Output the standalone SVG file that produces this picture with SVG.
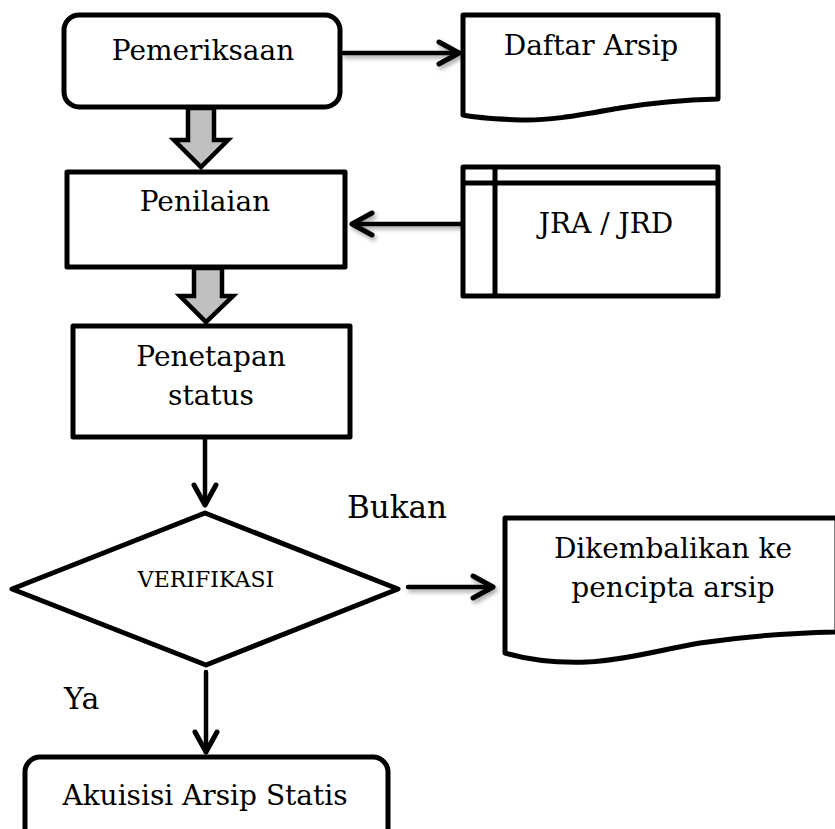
<svg xmlns="http://www.w3.org/2000/svg" width="835" height="829" viewBox="0 0 835 829">
  <defs>
    <style>
      .shape { fill: #ffffff; stroke: #000000; stroke-width: 5; stroke-linejoin: round; }
      .block { fill: #c0c0c0; stroke: #000000; stroke-width: 4.5; stroke-linejoin: miter; }
      .conn { fill: none; stroke: #000000; stroke-width: 4.5; stroke-linecap: round; }
      .lbl { font-family: "DejaVu Serif", "Liberation Serif", serif; font-size: 28px; fill: #000000; text-anchor: middle; }
      .plain { font-family: "DejaVu Serif", "Liberation Serif", serif; fill: #000000; }
    </style>
    <marker id="chev" markerUnits="userSpaceOnUse" markerWidth="40" markerHeight="40" viewBox="-30 -20 40 40" refX="0" refY="0" orient="auto">
      <path d="M -20 -11 L 0 0 L -20 11" fill="none" stroke="#000000" stroke-width="5" stroke-linecap="round" stroke-linejoin="round"/>
    </marker>
    <filter id="sh" filterUnits="userSpaceOnUse" x="0" y="0" width="835" height="829">
      <feGaussianBlur in="SourceAlpha" stdDeviation="2"/>
      <feOffset dx="2" dy="3" result="b"/>
      <feComponentTransfer><feFuncA type="linear" slope="0.35"/></feComponentTransfer>
      <feMerge><feMergeNode/><feMergeNode in="SourceGraphic"/></feMerge>
    </filter>
  </defs>
  <rect width="835" height="829" fill="#ffffff"/>

  <g id="connectors">
    <line class="conn" x1="343" y1="53" x2="459" y2="53" marker-end="url(#chev)" filter="url(#sh)"/>
    <line class="conn" x1="463" y1="224" x2="352" y2="224" marker-end="url(#chev)" filter="url(#sh)"/>
    <line class="conn" x1="205" y1="438" x2="205" y2="505" marker-end="url(#chev)"/>
    <line class="conn" x1="408" y1="587" x2="493" y2="587" marker-end="url(#chev)" filter="url(#sh)"/>
    <line class="conn" x1="206" y1="672" x2="206" y2="752" marker-end="url(#chev)"/>
    <path id="block1" class="block" d="M 188 108 L 214 108 L 214 140 L 228 140 L 201 167 L 174 140 L 188 140 Z"/>
    <path id="block2" class="block" d="M 194 268 L 222 268 L 222 296 L 233 296 L 206 322 L 180 296 L 194 296 Z"/>
  </g>

  <g id="pemeriksaan">
    <rect class="shape" x="64" y="15" width="276" height="92" rx="15" ry="15"/>
    <text class="lbl" x="203" y="60">Pemeriksaan</text>
  </g>

  <g id="daftar-arsip">
    <path class="shape" d="M 463 15 L 718 15 L 718 99 C 680 100 650 103 620 108 C 580 115 550 121 520 120 C 495 119 478 118 463 115 Z"/>
    <text class="lbl" x="591" y="55">Daftar Arsip</text>
  </g>

  <g id="penilaian">
    <rect class="shape" x="67" y="172" width="278" height="95"/>
    <text class="lbl" x="205" y="211">Penilaian</text>
  </g>

  <g id="jra-jrd">
    <rect class="shape" x="463" y="167" width="255" height="129"/>
    <line x1="463" y1="183" x2="718" y2="183" stroke="#000000" stroke-width="5"/>
    <line x1="495" y1="167" x2="495" y2="296" stroke="#000000" stroke-width="5"/>
    <text class="lbl" x="606" y="233">JRA / JRD</text>
  </g>

  <g id="penetapan-status">
    <rect class="shape" x="73" y="326" width="277" height="111"/>
    <text class="lbl" x="211" y="366">Penetapan</text>
    <text class="lbl" x="211" y="405">status</text>
  </g>

  <g id="verifikasi">
    <polygon class="shape" points="205,513 398,589 206,665 12,589"/>
    <text class="plain" x="206" y="587" font-size="22" text-anchor="middle">VERIFIKASI</text>
  </g>

  <text class="plain" x="347" y="518" font-size="31">Bukan</text>
  <text class="plain" x="64" y="709" font-size="30">Ya</text>

  <g id="dikembalikan">
    <path class="shape" d="M 505 518 L 837 518 L 837 632 C 790 633 740 637 700 643 C 660 650 620 661 587 662 C 555 663 525 659 505 653 Z"/>
    <text class="lbl" x="673" y="558">Dikembalikan ke</text>
    <text class="lbl" x="673" y="597">pencipta arsip</text>
  </g>

  <g id="akuisisi">
    <rect class="shape" x="25" y="757" width="363" height="90" rx="15" ry="15"/>
    <text class="lbl" x="205" y="805">Akuisisi Arsip Statis</text>
  </g>
</svg>
